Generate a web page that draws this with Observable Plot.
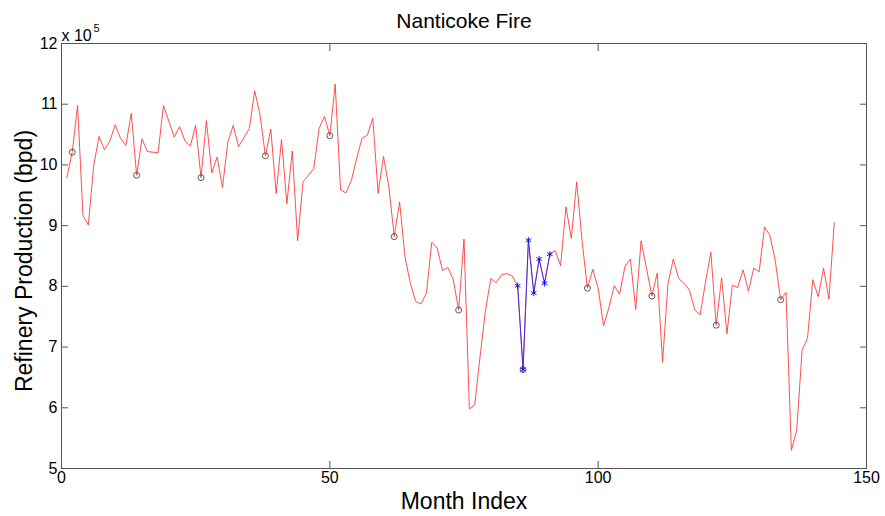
<!DOCTYPE html>
<html><head><meta charset="utf-8">
<script src="https://cdn.jsdelivr.net/npm/d3@7"></script>
<script src="https://cdn.jsdelivr.net/npm/@observablehq/plot@0.6"></script>
<style>html,body{margin:0;padding:0;background:#fff}#chart svg{display:block}</style>
</head><body><div id="chart"></div>
<script>
// Refinery production, units of 10^5 bpd, months 1..144
const production = [
  9.79,10.21,10.98,9.17,9.01,9.99,10.47,10.25,10.39,10.66,10.44,10.32,
  10.85,9.83,10.43,10.22,10.21,10.20,10.98,10.72,10.46,10.63,10.40,10.31,
  10.65,9.79,10.73,9.87,10.13,9.63,10.38,10.65,10.30,10.45,10.60,11.22,
  10.82,10.15,10.59,9.53,10.42,9.36,10.23,8.75,9.72,9.83,9.94,10.60,
  10.80,10.48,11.33,9.59,9.54,9.74,10.11,10.44,10.49,10.77,9.53,10.14,
  9.64,8.82,9.39,8.49,8.05,7.75,7.71,7.89,8.73,8.63,8.26,8.31,
  8.11,7.61,8.78,5.98,6.05,6.85,7.60,8.13,8.06,8.19,8.21,8.17,
  8.01,6.63,8.76,7.89,8.45,8.05,8.53,8.59,8.34,9.31,8.79,9.72,
  8.75,7.97,8.28,7.97,7.35,7.65,8.01,7.87,8.33,8.45,7.62,8.75,
  8.30,7.84,8.22,6.75,8.04,8.45,8.13,8.05,7.94,7.61,7.53,8.07,
  8.56,7.36,8.14,7.22,8.02,7.98,8.27,7.92,8.30,8.24,8.98,8.84,
  8.42,7.78,7.90,5.30,5.63,6.95,7.14,8.11,7.83,8.30,7.79,9.05
];
const months = production.map((_, i) => i + 1);
const circleMonths = [2,14,26,38,50,62,74,86,98,110,122,134];
const fireMonths = [85,86,87,88,89,90,91];
const xTicks = [0,50,100,150];
const yTicks = [5,6,7,8,9,10,11,12];
const titleText = "Nanticoke Fire";
const xLabel = "Month Index";
const yLabel = "Refinery Production (bpd)";
const expBase = "x 10";
const expPower = "5";

const data = months.map((m, i) => ({month: m, value: production[i]}));
const circles = data.filter(d => circleMonths.includes(d.month));
const fire = data.filter(d => fireMonths.includes(d.month));
const font = "'Liberation Sans', Arial, Helvetica, sans-serif";
const axisColor = "#555";

const chart = Plot.plot({
  width: 885, height: 516,
  marginLeft: 61, marginRight: 19, marginTop: 43, marginBottom: 48,
  style: {fontFamily: font, background: "#fff", color: "#000"},
  x: {domain: [0, 150]},
  y: {domain: [5, 12]},
  marks: [
    Plot.axisX({anchor: "bottom", ticks: xTicks, tickSize: -7, tickPadding: 10, tickFormat: d3.format("d"), fontSize: 16, label: null, stroke: axisColor, fill: "#000"}),
    Plot.axisX({anchor: "top", ticks: xTicks, tickSize: -7, tickFormat: () => "", label: null, stroke: axisColor}),
    Plot.axisY({anchor: "left", ticks: yTicks, tickSize: -7, tickPadding: 11, tickFormat: d3.format("d"), fontSize: 16, label: null, stroke: axisColor, fill: "#000"}),
    Plot.axisY({anchor: "right", ticks: yTicks, tickSize: -7, tickFormat: () => "", label: null, stroke: axisColor}),
    Plot.frame({stroke: axisColor}),
    Plot.line(data, {x: "month", y: "value", stroke: "#ff3b3b", strokeWidth: 0.9}),
    Plot.line(fire, {x: "month", y: "value", stroke: "#2a2aff", strokeWidth: 0.9}),
    Plot.dot(fire, {x: "month", y: "value", symbol: "asterisk", r: 3, stroke: "#0000ff", strokeWidth: 0.9}),
    Plot.dot(circles, {x: "month", y: "value", r: 3, stroke: "#333", fill: "none", strokeWidth: 0.8}),
    Plot.text([titleText], {text: d => d, frameAnchor: "top", dy: -16, lineAnchor: "bottom", fontSize: 21, fill: "#000"}),
    Plot.text([xLabel], {text: d => d, frameAnchor: "bottom", dy: 40, lineAnchor: "bottom", fontSize: 23, fill: "#000"}),
    Plot.text([yLabel], {text: d => d, frameAnchor: "left", dx: -30, dy: 5, rotate: -90, textAnchor: "middle", lineAnchor: "bottom", fontSize: 23, fill: "#000"}),
    Plot.text([expBase], {text: d => d, frameAnchor: "top-left", dx: 0, dy: -3, textAnchor: "start", lineAnchor: "bottom", fontSize: 16, fill: "#000"}),
    Plot.text([expPower], {text: d => d, frameAnchor: "top-left", dx: 32, dy: -12, textAnchor: "start", lineAnchor: "bottom", fontSize: 11, fill: "#000"})
  ]
});
document.getElementById("chart").appendChild(chart);
</script>
</body></html>
